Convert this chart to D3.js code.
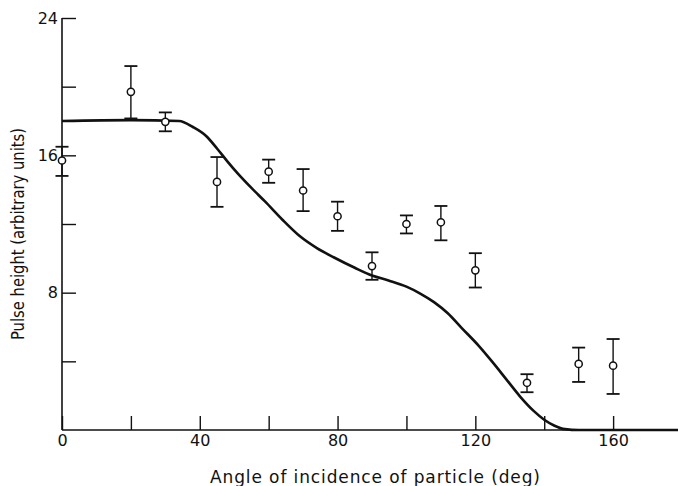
<!DOCTYPE html>
<html>
<head>
<meta charset="utf-8">
<script src="https://cdn.jsdelivr.net/npm/d3@7"></script>
<style>
  html, body { margin: 0; padding: 0; background: #fff; }
  svg { display: block; }
  text { font-family: "DejaVu Sans", sans-serif; fill: #111; }
</style>
</head>
<body>
<svg id="chart" width="678" height="486"></svg>
<script>
// Measured pulse heights vs. angle of incidence, with error bounds
const angles   = [0, 20, 30, 45, 60, 70, 80, 90, 100, 110, 120, 135, 150, 160];
const heights  = [15.7, 19.7, 17.95, 14.45, 15.05, 13.95, 12.45, 9.55, 12.0, 12.1, 9.3, 2.75, 3.85, 3.75];
const errHigh  = [16.5, 21.2, 18.5, 15.9, 15.75, 15.2, 13.3, 10.35, 12.5, 13.05, 10.3, 3.25, 4.8, 5.3];
const errLow   = [14.8, 18.15, 17.4, 13.0, 14.4, 12.75, 11.6, 8.75, 11.45, 11.05, 8.3, 2.2, 2.8, 2.1];

// Calculated response curve
const curveAngle  = [0, 20, 34, 38, 42, 45, 48, 51, 55, 59, 64, 69, 74, 79, 85, 90, 95, 100, 104, 108, 112, 116, 121, 125, 129, 133, 137, 140, 143, 146, 150, 180];
const curveHeight = [18.0, 18.05, 18.0, 17.65, 17.1, 16.4, 15.65, 14.95, 14.1, 13.3, 12.25, 11.3, 10.6, 10.05, 9.45, 9.0, 8.7, 8.35, 7.95, 7.45, 6.8, 5.95, 4.9, 3.95, 2.95, 1.95, 1.1, 0.6, 0.25, 0.05, 0, 0];

const xTicks = [0, 20, 40, 60, 80, 100, 120, 140, 160];
const xLabels = ["0", "", "40", "", "80", "", "120", "", "160"];
const yTicks = [4, 8, 12, 16, 20, 24];
const yLabels = ["", "8", "", "16", "", "24"];

const svg = d3.select("#chart");
const x = d3.scaleLinear().domain([0, 180]).range([62, 682]);
const y = d3.scaleLinear().domain([0, 24]).range([430, 18]);

const ink = "#111";

// Axes drawn with inward ticks
const xAxis = d3.axisBottom(x).tickValues(xTicks).tickSize(-14).tickPadding(5)
  .tickFormat((d, i) => xLabels[i]);
const gx = svg.append("g").attr("transform", `translate(0,${y(0)})`).call(xAxis);
gx.select(".domain").remove();
gx.selectAll(".tick line").attr("stroke", ink).attr("stroke-width", 1.4);
gx.selectAll(".tick text").attr("font-size", 16).attr("fill", ink).attr("font-family", "DejaVu Sans");

const yAxis = d3.axisLeft(y).tickValues(yTicks).tickSize(-14).tickPadding(4)
  .tickFormat((d, i) => yLabels[i]);
const gy = svg.append("g").attr("transform", `translate(${x(0)},0)`).call(yAxis);
gy.select(".domain").remove();
gy.selectAll(".tick line").attr("stroke", ink).attr("stroke-width", 1.4);
gy.selectAll(".tick text").attr("font-size", 16).attr("fill", ink).attr("font-family", "DejaVu Sans");

// Axis lines
svg.append("line").attr("x1", x(0)).attr("x2", 677).attr("y1", y(0)).attr("y2", y(0))
  .attr("stroke", ink).attr("stroke-width", 1.6);
svg.append("line").attr("x1", x(0)).attr("x2", x(0)).attr("y1", y(0)).attr("y2", y(24))
  .attr("stroke", ink).attr("stroke-width", 1.6);

// Response curve
const line = d3.line().x(d => x(d[0])).y(d => y(d[1])).curve(d3.curveMonotoneX);
svg.append("path")
  .datum(curveAngle.map((a, i) => [a, curveHeight[i]]))
  .attr("d", line)
  .attr("fill", "none").attr("stroke", ink).attr("stroke-width", 2.6);

// Measurements with error bars
const pts = angles.map((a, i) => ({ a, h: heights[i], hi: errHigh[i], lo: errLow[i] }));
const g = svg.append("g").selectAll("g").data(pts).join("g");
g.append("line").attr("x1", d => x(d.a)).attr("x2", d => x(d.a))
  .attr("y1", d => y(d.hi)).attr("y2", d => y(d.lo))
  .attr("stroke", ink).attr("stroke-width", 1.4);
g.append("line").attr("x1", d => x(d.a) - 6.5).attr("x2", d => x(d.a) + 6.5)
  .attr("y1", d => y(d.hi)).attr("y2", d => y(d.hi))
  .attr("stroke", ink).attr("stroke-width", 1.8);
g.append("line").attr("x1", d => x(d.a) - 6.5).attr("x2", d => x(d.a) + 6.5)
  .attr("y1", d => y(d.lo)).attr("y2", d => y(d.lo))
  .attr("stroke", ink).attr("stroke-width", 1.8);
g.append("circle").attr("cx", d => x(d.a)).attr("cy", d => y(d.h)).attr("r", 3.6)
  .attr("fill", "#fff").attr("stroke", ink).attr("stroke-width", 1.5);

// Axis titles
svg.append("text").attr("x", 375).attr("y", 483)
  .attr("text-anchor", "middle").attr("font-size", 17)
  .attr("textLength", 330).attr("lengthAdjust", "spacing")
  .text("Angle of incidence of particle (deg)");
svg.append("text").attr("transform", "translate(24,234) rotate(-90)")
  .attr("text-anchor", "middle").attr("font-size", 17)
  .style("font-family", "'DejaVu Sans Condensed', 'DejaVu Sans', sans-serif")
  .attr("textLength", 212).attr("lengthAdjust", "spacingAndGlyphs")
  .text("Pulse height (arbitrary units)");
</script>
</body>
</html>
